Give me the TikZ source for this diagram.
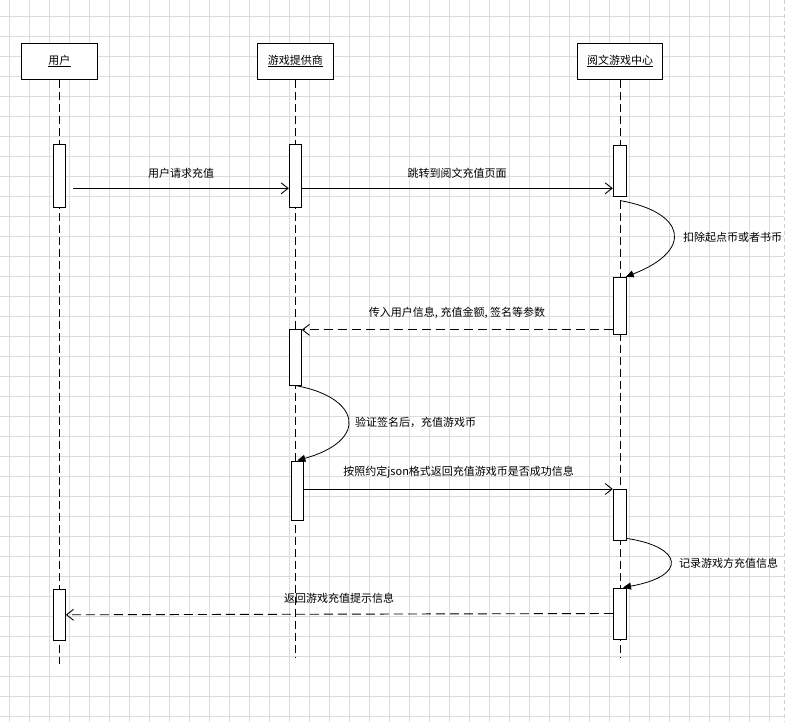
\documentclass[tikz,border=0pt]{standalone}
\usepackage{fontspec}
\setmainfont{Noto Sans CJK SC}
\usetikzlibrary{arrows.meta,calc}
\definecolor{gridgray}{HTML}{DCDCDC}
\definecolor{pagegray}{HTML}{CFCFCF}
\begin{document}
\begin{tikzpicture}[x=1pt,y=-1pt,
  gridline/.style={draw=gridgray, line width=0.8pt},
  pageline/.style={draw=pagegray, line width=0.8pt, dash pattern=on 4pt off 3pt},
  headbox/.style={draw, fill=white, line width=1pt, minimum height=36pt, inner sep=0pt},
  headtxt/.style={font=\fontsize{11}{13}\selectfont, inner sep=0pt, anchor=base},
  lifeline/.style={draw, line width=0.9pt, dash pattern=on 8pt off 4pt},
  act/.style={draw, fill=white, line width=1pt, inner sep=0pt, minimum width=12pt},
  lbl/.style={font=\fontsize{11}{13}\selectfont, inner sep=0pt},
  msg/.style={line width=0.9pt, -{Straight Barb[length=7pt,width=11pt,line width=0.9pt]}},
  rmsg/.style={msg, dash pattern=on 9pt off 5pt},
  selfmsg/.style={line width=0.8pt, -{Triangle[length=8pt,width=7pt]}}]
\useasboundingbox (0,0) rectangle (797,722);
\fill[white] (0,0) rectangle (797,722);
% grid
\foreach \i in {0,...,38} \draw[gridline] (9.5+20*\i,0) -- (9.5+20*\i,722);
\foreach \j in {0,...,35} \draw[gridline] (0,16+20*\j) -- (784,16+20*\j);
\draw[pageline] (784,0) -- (784,722);
% headers
\node[headbox, minimum width=76pt] (hu) at (59.3,62) {};
\node[headbox, minimum width=76pt] (hg) at (295.3,62) {};
\node[headbox, minimum width=85.4pt] (hr) at (620,62) {};
\node[headtxt] (tu) at (59.3,64.5) {用户};
\node[headtxt] (tg) at (295.3,64.5) {游戏提供商};
\node[headtxt] (tr) at (620,64.5) {阅文游戏中心};
\foreach \t in {tu,tg,tr} \draw[line width=0.7pt] ($(\t.base west)+(0,1.5)$) -- ($(\t.base east)+(0,1.5)$);
% lifelines
\coordinate (eu) at (59.3,664);
\coordinate (eg) at (295.3,657);
\coordinate (er) at (620,657);
\draw[lifeline] (hu.south) -- (eu);
\draw[lifeline] (hg.south) -- (eg);
\draw[lifeline] (hr.south) -- (er);
% activations
\node[act, minimum height=63pt] (u1) at (59.3,175.8) {};
\node[act, minimum height=63pt] (g1) at (295.3,175.8) {};
\node[act, minimum width=13.4pt, minimum height=50.7pt] (r1) at (620,170.7) {};
\node[act, minimum width=13.4pt, minimum height=56.7pt] (r2) at (620,305.7) {};
\node[act, minimum height=55.7pt] (g2) at (295.3,357.2) {};
\node[act, minimum height=59pt] (g3) at (297.3,490.5) {};
\node[act, minimum width=13.4pt, minimum height=51pt] (r3) at (620,514.5) {};
\node[act, minimum width=13.4pt, minimum height=51pt] (r4) at (620,613.5) {};
\node[act, minimum height=51pt] (u2) at (59.3,614.8) {};
% message 1 and 2
\coordinate (m1) at (73.3,188.3);
\draw[msg] (m1) -- (m1 -| g1.west);
\draw[msg] (m1 -| g1.east) -- (m1 -| r1.west);
\node[lbl] (l1) at (181,173) {用户请求充值};
\node[lbl] (l2) at (457,173) {跳转到阅文充值页面};
% self 1
\draw[selfmsg] ($(r1.south)+(0,4)$) .. controls (685,212) and (695,250) .. ($(r2.north east)+(-1.5,0)$);
\node[lbl, anchor=west] (s1) at (683,237) {扣除起点币或者书币};
% message 3
\coordinate (m3) at (0,329.8);
\draw[rmsg] (m3 -| r2.west) -- (m3 -| g2.east);
\node[lbl] (l3) at (457,313) {传入用户信息, 充值金额, 签名等参数};
% self 2
\draw[selfmsg] (g2.south) .. controls (360,397) and (370,440) .. (g3.north);
\node[lbl, anchor=west] (s2) at (355,422) {验证签名后，充值游戏币};
% message 4
\coordinate (m4) at (0,489);
\draw[msg] (m4 -| g3.east) -- (m4 -| r3.west);
\node[lbl] (l4) at (458.7,472) {按照约定json格式返回充值游戏币是否成功信息};
% self 3
\draw[selfmsg] ($(r3.south east)+(0,-2)$) .. controls (683,547) and (688,576) .. ($(r4.north)+(3,0)$);
\node[lbl, anchor=west] (s3) at (679,563) {记录游戏方充值信息};
% message 5
\draw[rmsg] (r4.west) -- (u2.east);
\node[lbl] (l5) at (339,598) {返回游戏充值提示信息};
\end{tikzpicture}
\end{document}
